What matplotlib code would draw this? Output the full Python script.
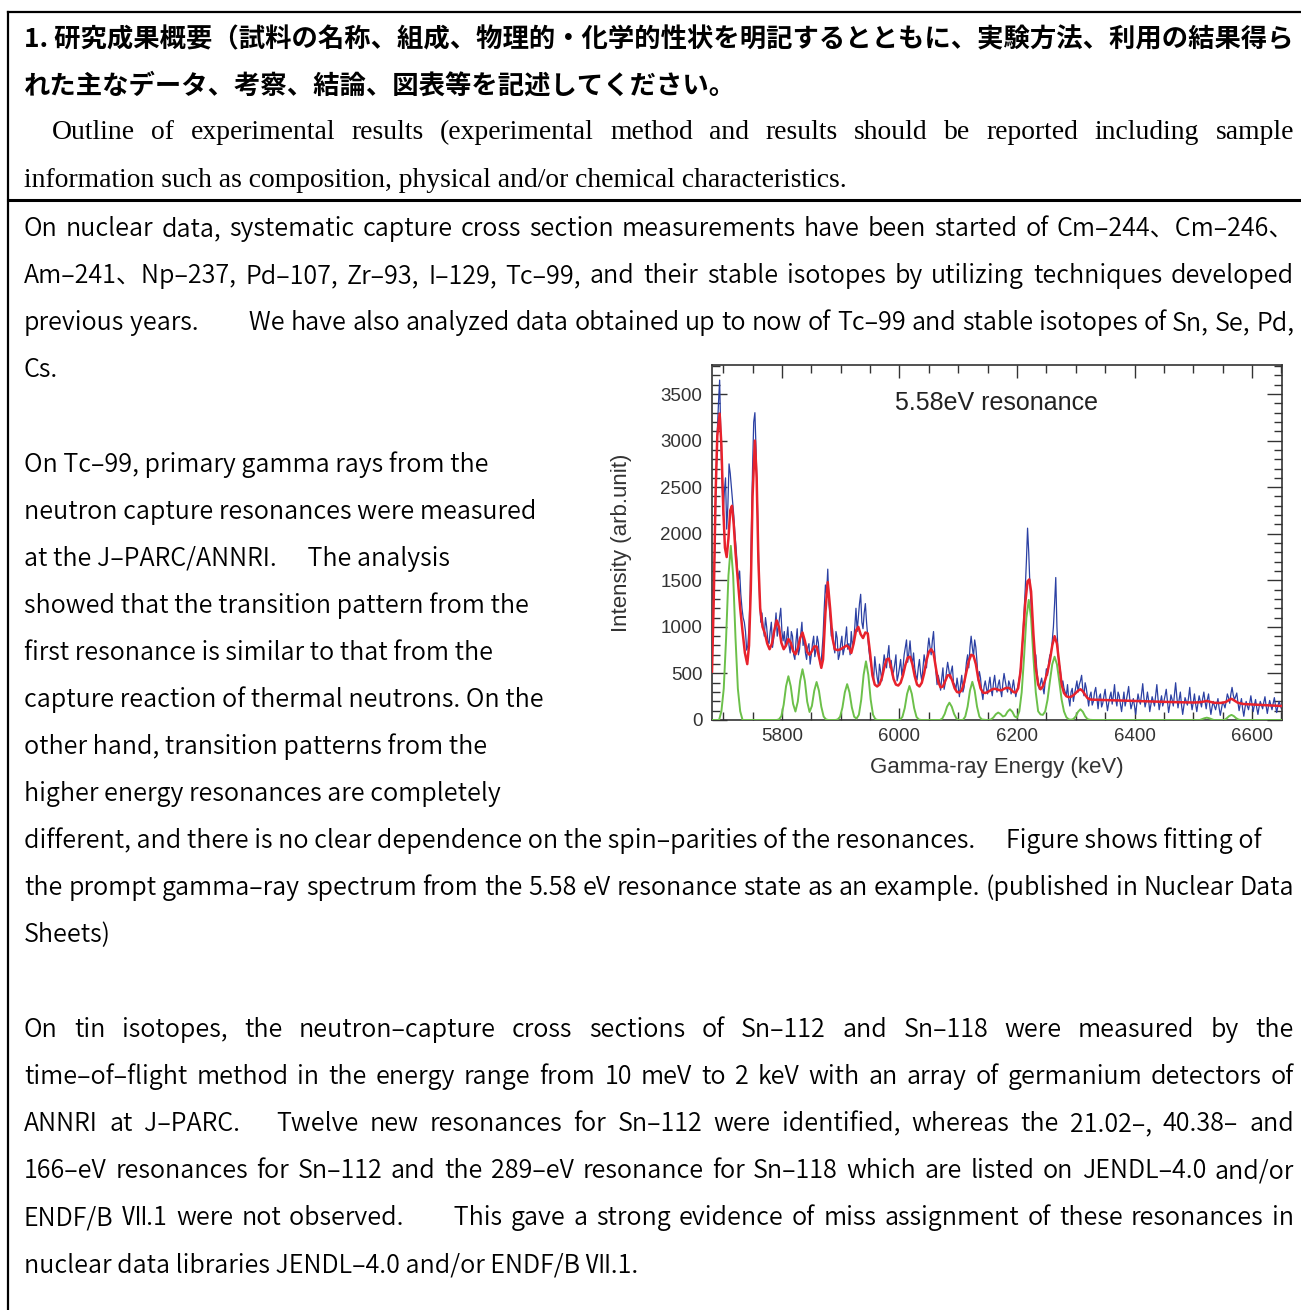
import numpy as np
import matplotlib
matplotlib.use("Agg")
import matplotlib.pyplot as plt
from matplotlib.lines import Line2D
from matplotlib.ticker import MultipleLocator

W, H = 1301, 1310

# ---- spectrum data ----
# measured spectrum, channels at 5682, 5686, ... keV
blue_counts = [
    1300, 1900, 3100, 3650, 2600, 2450, 2050, 2750, 2500, 2200,
    1850, 1500, 1350, 1100, 950, 800, 1350, 2700, 3300, 2400,
    1300, 1150, 900, 1000, 820, 1050, 880, 1150, 1000, 1200,
    850, 780, 1000, 720, 900, 650, 980, 760, 1050, 880,
    650, 820, 700, 900, 760, 830, 580, 900, 1450, 1620,
    1100, 980, 720, 880, 700, 900, 760, 1000, 820, 950,
    850, 1200, 1100, 1350, 980, 1250, 900, 650, 520, 680,
    460, 600, 420, 700, 560, 800, 640, 520, 700, 480,
    650, 560, 780, 620, 850, 600, 560, 430, 650, 420,
    700, 560, 880, 700, 950, 520, 480, 320, 560, 400,
    620, 450, 580, 380, 450, 250, 480, 350, 620, 560,
    900, 680, 780, 420, 450, 220, 420, 280, 460, 260,
    480, 300, 430, 250, 500, 350, 420, 280, 430, 250,
    380, 550, 900, 1400, 2060, 1450, 1000, 620, 520, 330,
    450, 280, 550, 620, 700, 1000, 1530, 700, 520, 420,
    300, 380, 150, 340, 280, 420, 380, 480, 260, 340,
    150, 300, 200, 350, 120, 280, 180, 330, 100, 250,
    170, 380, 150, 260, 90, 300, 210, 360, 120, 230,
    60, 280, 170, 390, 140, 300, 90, 250, 150, 380,
    110, 260, 200, 330, 80, 270, 150, 400, 130, 300,
    60, 240, 160, 350, 110, 280, 90, 260, 140, 300,
    120, 280, 60, 200, 110, 230, 50, 190, 130, 280,
    180, 350, 220, 290, 100, 230, 40, 200, 110, 260,
    90, 220, 60, 200, 120, 250, 70, 210, 110, 240,
    80, 200, 120,
]
# channels in between, at 5684, 5688, ... keV
blue_counts_mid = [
    1500, 2600, 3400, 3050, 2200, 2600, 2300, 2650, 2350, 2000,
    1650, 1600, 1200, 1050, 750, 1000, 2000, 3200, 2900, 1800,
    1050, 1000, 1100, 850, 950, 780, 1000, 900, 1100, 950,
    950, 880, 800, 950, 700, 850, 700, 920, 800, 720,
    780, 600, 820, 680, 900, 650, 720, 1200, 1350, 1250,
    900, 800, 950, 650, 820, 700, 880, 760, 700, 800,
    1000, 950, 1250, 1050, 1150, 1050, 750, 580, 420, 560,
    380, 520, 580, 620, 700, 560, 480, 600, 420, 560,
    480, 700, 860, 720, 680, 720, 480, 560, 500, 560,
    620, 760, 780, 850, 720, 380, 420, 450, 330, 520,
    540, 520, 400, 320, 360, 380, 300, 480, 700, 780,
    780, 860, 620, 520, 300, 360, 340, 380, 330, 400,
    360, 380, 320, 400, 420, 300, 380, 350, 330, 320,
    450, 700, 1150, 1700, 1800, 1250, 820, 700, 420, 400,
    350, 420, 480, 700, 850, 1250, 1000, 600, 380, 340,
    260, 230, 300, 200, 350, 300, 420, 330, 400, 240,
    260, 160, 300, 230, 250, 140, 260, 200, 180, 300,
    260, 220, 300, 170, 200, 150, 280, 220, 170, 150,
    180, 210, 280, 240, 200, 210, 170, 200, 260, 230,
    190, 150, 260, 200, 160, 220, 280, 250, 220, 160,
    150, 200, 240, 200, 190, 170, 180, 200, 230, 200,
    220, 150, 140, 150, 170, 130, 120, 170, 200, 240,
    280, 270, 250, 190, 170, 120, 130, 150, 180, 170,
    160, 130, 140, 160, 190, 150, 150, 160, 180, 150,
    150, 160,
]

# fitted curve
red_energy = [
    5681, 5684, 5687, 5690, 5694, 5697, 5700, 5703, 5706, 5709, 5712, 5715, 5718, 5721,
    5725, 5729, 5733, 5737, 5741, 5744, 5747, 5750, 5754, 5757, 5760, 5763, 5767, 5771,
    5775, 5779, 5783, 5787, 5791, 5795, 5799, 5803, 5807, 5811, 5815, 5819, 5823, 5827,
    5831, 5835, 5839, 5843, 5847, 5851, 5855, 5859, 5863, 5867, 5870, 5874, 5878, 5882,
    5886, 5890, 5895, 5900, 5905, 5910, 5914, 5918, 5922, 5926, 5930, 5934, 5938, 5942,
    5946, 5950, 5954, 5958, 5962, 5966, 5970, 5974, 5978, 5982, 5986, 5990, 5994, 5998,
    6002, 6006, 6010, 6014, 6018, 6022, 6026, 6030, 6034, 6038, 6042, 6046, 6050, 6054,
    6058, 6062, 6066, 6070, 6074, 6078, 6082, 6086, 6090, 6094, 6098, 6102, 6106, 6110,
    6114, 6118, 6122, 6126, 6130, 6134, 6138, 6142, 6146, 6150, 6154, 6158, 6162, 6166,
    6170, 6174, 6178, 6182, 6186, 6190, 6194, 6198, 6202, 6206, 6210, 6214, 6218, 6221,
    6224, 6228, 6232, 6236, 6240, 6244, 6248, 6252, 6256, 6260, 6264, 6268, 6272, 6276,
    6280, 6284, 6288, 6292, 6296, 6300, 6304, 6308, 6312, 6316, 6320, 6325, 6330, 6340,
    6350, 6360, 6370, 6380, 6390, 6400, 6410, 6420, 6430, 6440, 6450, 6460, 6470, 6480,
    6490, 6500, 6510, 6518, 6523, 6528, 6536, 6546, 6555, 6561, 6565, 6569, 6576, 6585,
    6595, 6605, 6615, 6625, 6635, 6645, 6651,
]
red_counts = [
    520, 1300, 2400, 3050, 3290, 2950, 2300, 1850, 1750, 1950, 2250, 2300, 2100, 1800,
    1500, 1200, 950, 720, 600, 800, 1400, 2400, 3000, 2600, 1700, 1200, 1000, 930,
    820, 760, 820, 960, 1070, 1000, 830, 760, 800, 870, 830, 740, 705, 770,
    880, 940, 850, 730, 700, 740, 790, 790, 680, 560, 650, 1150, 1480, 1200,
    880, 760, 750, 760, 780, 800, 780, 720, 820, 960, 1000, 920, 880, 940,
    930, 720, 480, 380, 360, 380, 450, 560, 650, 660, 560, 440, 380, 370,
    400, 480, 590, 670, 680, 600, 470, 380, 360, 400, 500, 640, 730, 760,
    720, 560, 410, 350, 360, 420, 480, 480, 420, 340, 300, 295, 320, 400,
    520, 630, 700, 690, 600, 450, 340, 295, 290, 300, 315, 330, 335, 330,
    320, 320, 335, 345, 345, 325, 300, 295, 340, 520, 880, 1250, 1490, 1510,
    1380, 920, 560, 380, 330, 360, 430, 520, 640, 800, 900, 820, 600, 380,
    290, 255, 245, 250, 265, 290, 315, 330, 310, 270, 235, 220, 218, 216,
    214, 212, 210, 207, 205, 203, 202, 200, 198, 196, 195, 194, 192, 190,
    189, 188, 190, 198, 205, 196, 185, 183, 192, 215, 228, 212, 185, 172,
    168, 165, 162, 158, 155, 152, 150,
]

# individual transition peaks
green_energy = [
    5681, 5693, 5697, 5701, 5705, 5709, 5713, 5717, 5721, 5725, 5729, 5733,
    5791, 5795, 5799, 5803, 5807, 5811, 5815, 5819, 5823, 5827, 5831, 5835, 5839,
    5843, 5847, 5851, 5855, 5859, 5863, 5867, 5871, 5875, 5879,
    5891, 5895, 5899, 5903, 5907, 5911, 5915, 5919, 5923, 5927, 5931, 5935, 5939,
    5943, 5947, 5951, 5955, 5959, 5963,
    5997, 6001, 6005, 6009, 6013, 6017, 6021, 6025, 6029, 6033, 6037,
    6069, 6073, 6077, 6081, 6085, 6089, 6093, 6097, 6101,
    6108, 6112, 6116, 6120, 6124, 6128, 6132, 6136, 6140, 6148,
    6152, 6156, 6160, 6164, 6168, 6172, 6176, 6180, 6184, 6188, 6192, 6196,
    6200, 6204, 6208, 6212, 6216, 6220, 6224, 6228, 6232, 6236, 6240, 6244,
    6248, 6252, 6256, 6260, 6264, 6268, 6272, 6276, 6280, 6284, 6288, 6292,
    6296, 6300, 6304, 6308, 6312, 6316, 6320, 6324, 6330,
    6511, 6515, 6519, 6523, 6527, 6531, 6535,
    6553, 6557, 6561, 6565, 6569, 6573, 6577, 6581, 6651,
]
green_counts = [
    0, 0, 94, 337, 879, 1552, 1870, 1552, 879, 337, 94, 0,
    0, 7, 42, 165, 362, 470, 362, 173, 91, 198, 420, 545, 420,
    197, 86, 151, 314, 408, 314, 143, 37, 6, 0,
    0, 6, 35, 135, 296, 385, 296, 135, 35, 15, 57, 220, 485,
    630, 485, 220, 57, 9, 0,
    0, 5, 33, 128, 281, 365, 281, 128, 33, 5, 0,
    0, 17, 65, 143, 186, 143, 65, 17, 0,
    0, 37, 144, 316, 410, 316, 144, 37, 6, 0,
    0, 7, 28, 62, 80, 64, 38, 47, 90, 115, 89, 40,
    24, 94, 297, 671, 1097, 1290, 1097, 671, 297, 94, 60, 55,
    92, 218, 415, 598, 680, 598, 415, 218, 92, 30, 7, 3,
    10, 40, 89, 115, 89, 40, 10, 2, 0,
    0, 9, 19, 25, 19, 9, 0,
    0, 19, 42, 55, 42, 19, 5, 0, 0,
]

x_ticks = [5800, 6000, 6200, 6400, 6600]
y_ticks = [0, 500, 1000, 1500, 2000, 2500, 3000, 3500]

# ---- page text ----
header_jp = [
    "1. 研究成果概要（試料の名称、組成、物理的・化学的性状を明記するとともに、実験方法、利用の結果得ら",
    "れた主なデータ、考察、結論、図表等を記述してください。",
]
header_en = [
    "Outline of experimental results (experimental method and results should be reported including sample",
    "information such as composition, physical and/or chemical characteristics.",
]
# (row, text, justify)
body = [
    (0, "On nuclear data, systematic capture cross section measurements have been started of Cm–244、Cm–246、", True),
    (1, "Am–241、Np–237, Pd–107, Zr–93, I–129, Tc–99, and their stable isotopes by utilizing techniques developed", True),
    (2, "previous years.\u3000\u3000We have also analyzed data obtained up to now of Tc–99 and stable isotopes of Sn, Se, Pd,", True),
    (3, "Cs.", False),
    (5, "On Tc–99, primary gamma rays from the", False),
    (6, "neutron capture resonances were measured", False),
    (7, "at the J–PARC/ANNRI.\u3000 The analysis", False),
    (8, "showed that the transition pattern from the", False),
    (9, "first resonance is similar to that from the", False),
    (10, "capture reaction of thermal neutrons. On the", False),
    (11, "other hand, transition patterns from the", False),
    (12, "higher energy resonances are completely", False),
    (13, "different, and there is no clear dependence on the spin–parities of the resonances.\u3000 Figure shows fitting of", False),
    (14, "the prompt gamma–ray spectrum from the 5.58 eV resonance state as an example. (published in Nuclear Data", True),
    (15, "Sheets)", False),
    (17, "On tin isotopes, the neutron–capture cross sections of Sn–112 and Sn–118 were measured by the", True),
    (18, "time–of–flight method in the energy range from 10 meV to 2 keV with an array of germanium detectors of", True),
    (19, "ANNRI at J–PARC.\u3000 Twelve new resonances for Sn–112 were identified, whereas the 21.02–, 40.38– and", True),
    (20, "166–eV resonances for Sn–112 and the 289–eV resonance for Sn–118 which are listed on JENDL–4.0 and/or", True),
    (21, "ENDF/B Ⅶ.1 were not observed.\u3000\u3000This gave a strong evidence of miss assignment of these resonances in", True),
    (22, "nuclear data libraries JENDL–4.0 and/or ENDF/B Ⅶ.1.", False),
]

JP = ["Noto Sans CJK JP", "DejaVu Sans"]
SERIF = ["Liberation Serif", "DejaVu Serif"]
px = 100 / 72

fig = plt.figure(figsize=(W / 100, H / 100), dpi=100)
fig.patch.set_facecolor("white")
renderer = fig.canvas.get_renderer()


def fy(y):
    return 1 - y / H


def width_of(t):
    return t.get_window_extent(renderer).width


def fit_size(sample, target, **kw):
    t = fig.text(0, 0, sample, fontsize=16, **kw)
    w = width_of(t)
    t.remove()
    return 16 * target / w


def put_line(text, base_y, x0, x1=None, **kw):
    if x1 is None:
        fig.text(x0 / W, fy(base_y), text, va="baseline", ha="left", **kw)
        return
    words = text.split(" ")
    objs = [fig.text(0, fy(base_y), w, va="baseline", ha="left", **kw) for w in words]
    widths = [width_of(o) for o in objs]
    gap = max((x1 - x0 - sum(widths)) / (len(words) - 1), 3)
    x = x0
    for o, w in zip(objs, widths):
        o.set_x(x / W)
        x += w + gap


jp_kw = dict(family=JP, weight="bold")
jp_size = fit_size(header_jp[0], 1270, **jp_kw)
en_size = fit_size(header_en[1], 824, family=SERIF)
body_kw = dict(family=JP, weight=350)
body_size = fit_size("neutron capture resonances were measured", 513, **body_kw)

row0 = 37
step = 47.1
put_line(header_jp[0], row0 + 0.38 * jp_size * px, 24, fontsize=jp_size, **jp_kw)
put_line(header_jp[1], row0 + step + 0.38 * jp_size * px, 24, fontsize=jp_size, **jp_kw)
put_line(header_en[0], row0 + 2 * step + 0.3 * en_size * px, 52, 1294, family=SERIF, fontsize=en_size)
put_line(header_en[1], row0 + 3 * step + 0.3 * en_size * px, 24, family=SERIF, fontsize=en_size)

body_top = 227
for row, text, just in body:
    y = body_top + row * step + 0.36 * body_size * px
    put_line(text, y, 24, 1294 if just else None, fontsize=body_size, **body_kw)

# frame lines
for xs, ys, lw in [([8, 8], [12, H], 1.6), ([8, W], [12, 12], 1.6), ([8, W], [200, 200], 2.2)]:
    fig.add_artist(Line2D([x / W for x in xs], [fy(y) for y in ys], color="black",
                          lw=lw, transform=fig.transFigure))

# ---- inset chart ----
blue_all = np.empty(len(blue_counts) + len(blue_counts_mid))
blue_all[0::2] = blue_counts
blue_all[1::2] = blue_counts_mid
blue_energy = 5682 + 2 * np.arange(len(blue_all))

ax = fig.add_axes([712 / W, fy(720), 570 / W, 355 / H])
ax.plot(blue_energy, blue_all, color="#2b40a3", lw=0.9, zorder=2)
ax.plot(green_energy, green_counts, color="#6cc04a", lw=1.4, zorder=3)
ax.plot(red_energy, red_counts, color="#e8222c", lw=1.8, zorder=4)

ax.set_xlim(5681, 6651)
ax.set_ylim(0, 3812)
ax.set_xticks(x_ticks)
ax.set_yticks(y_ticks)
ax.xaxis.set_minor_locator(MultipleLocator(50))
ax.yaxis.set_minor_locator(MultipleLocator(100))
ax.tick_params(which="both", direction="in", top=True, right=True, colors="#333333",
               labelcolor="#333333", width=1.0)
ax.tick_params(axis="x", which="major", length=9, pad=6, labelsize=13.5)
ax.tick_params(axis="x", which="minor", length=6)
ax.tick_params(axis="y", which="major", length=11, pad=7, labelsize=13.5)
ax.tick_params(axis="y", which="minor", length=5.5)
for lab in ax.get_xticklabels() + ax.get_yticklabels():
    lab.set_family("Liberation Sans")
for s in ax.spines.values():
    s.set_color("#333333")
    s.set_linewidth(1.2)

ax.text(0.321, 0.893, "5.58eV resonance", transform=ax.transAxes, ha="left", va="center",
        fontsize=18, family="Liberation Sans", color="#222222")
ax.text(0.5, (720 - 768) / 355, "Gamma-ray Energy (keV)", transform=ax.transAxes,
        ha="center", va="center", fontsize=16, family="Liberation Sans", color="#333333")
ax.text((622 - 712) / 570, 0.5, "Intensity (arb.unit)", transform=ax.transAxes, rotation=90,
        ha="center", va="center", fontsize=16, family="Liberation Sans", color="#333333")

fig.savefig("out.png", dpi=100)
